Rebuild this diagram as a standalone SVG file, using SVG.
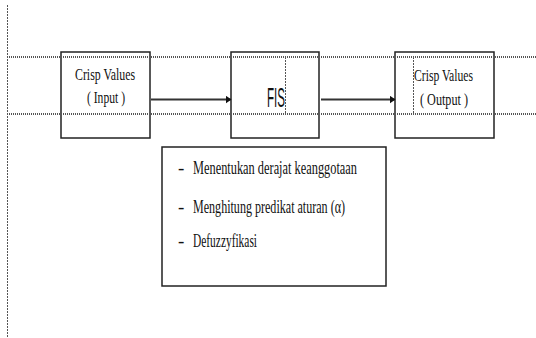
<svg xmlns="http://www.w3.org/2000/svg" width="536" height="338" viewBox="0 0 536 338">
<style>
.box{fill:#fff;stroke:#222;stroke-width:1.5}
.guide{stroke:#555;stroke-width:2;stroke-dasharray:1 1;fill:none}
.vguide{stroke:#555;stroke-width:1;stroke-dasharray:2 1;fill:none}
.conn{stroke:#333;stroke-width:2;fill:none}
.t{font-family:"Liberation Serif","Times New Roman",serif;fill:#111}
.fis{font-family:"Liberation Sans",Arial,sans-serif;fill:#111}
</style>
<defs>
<marker id="arr" markerWidth="6" markerHeight="8" refX="5.5" refY="4" orient="auto" markerUnits="userSpaceOnUse">
<path d="M0,0 L6,4 L0,8 Z" fill="#111"/>
</marker>
</defs>
<rect width="536" height="338" fill="#fff"/>
<g id="n1">
<rect class="box" x="61" y="52" width="89" height="86"/>
<text class="t" x="75" y="80" font-size="17" textLength="60" lengthAdjust="spacingAndGlyphs">Crisp Values</text>
<text class="t" x="87" y="103" font-size="17" textLength="38" lengthAdjust="spacingAndGlyphs">( Input )</text>
</g>
<g id="n2">
<rect class="box" x="231" y="52" width="88" height="86"/>
<text class="fis" x="267" y="107" font-size="28" textLength="18" lengthAdjust="spacingAndGlyphs">FIS</text>
</g>
<g id="n3">
<rect class="box" x="395" y="52" width="99" height="86"/>
<text class="t" x="414" y="81" font-size="17" textLength="59" lengthAdjust="spacingAndGlyphs">Crisp Values</text>
<text class="t" x="420" y="105" font-size="17" textLength="48" lengthAdjust="spacingAndGlyphs">( Output )</text>
</g>
<g id="guides">
<line class="vguide" x1="7.5" y1="5" x2="7.5" y2="338"/>
<line class="guide" x1="7" y1="57" x2="536" y2="57"/>
<line class="guide" x1="7" y1="114" x2="536" y2="114"/>
<line class="vguide" x1="285.5" y1="57" x2="285.5" y2="114"/>
<line class="vguide" x1="413.5" y1="57" x2="413.5" y2="114"/>
</g>
<g id="connectors">
<line class="conn" x1="151" y1="99.5" x2="231" y2="99.5" marker-end="url(#arr)"/>
<line class="conn" x1="321" y1="99.5" x2="395" y2="99.5" marker-end="url(#arr)"/>
</g>
<g id="n4">
<rect class="box" x="162" y="147" width="224" height="139"/>
<text class="t" x="178" y="174" font-size="19">-</text>
<text class="t" x="193" y="174" font-size="19" textLength="164" lengthAdjust="spacingAndGlyphs">Menentukan derajat keanggotaan</text>
<text class="t" x="178" y="213" font-size="19">-</text>
<text class="t" x="193" y="213" font-size="19" textLength="152" lengthAdjust="spacingAndGlyphs">Menghitung predikat aturan (α)</text>
<text class="t" x="178" y="247" font-size="19">-</text>
<text class="t" x="193" y="247" font-size="19" textLength="64" lengthAdjust="spacingAndGlyphs">Defuzzyfikasi</text>
</g>
</svg>
